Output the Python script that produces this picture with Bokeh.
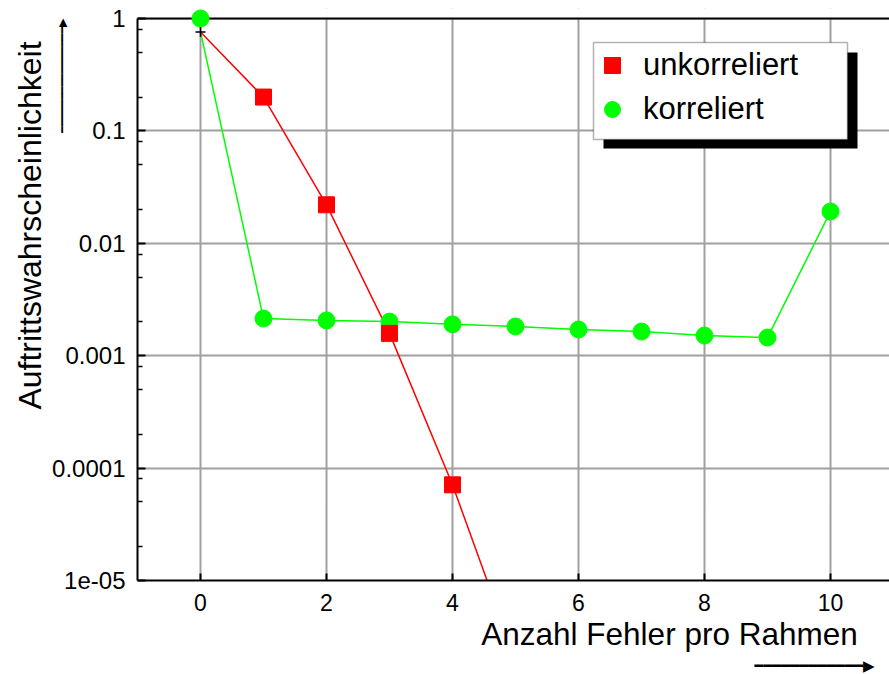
import math
from bokeh.plotting import figure
from bokeh.models import (FixedTicker, Range1d, Label, BoxAnnotation, Span,
                          Legend, LegendItem)
from bokeh.embed import file_html
from bokeh.resources import INLINE

# ---- data ----
fehler = list(range(11))
fehler_unkorreliert = [0, 1, 2, 3, 4, 5]
unkorreliert = [0.76, 0.2, 0.022, 0.00158, 7.1e-5, 2.0e-6]
korreliert = [1.0, 0.00214, 0.00206, 0.00201, 0.0019, 0.00182,
              0.00171, 0.00164, 0.00151, 0.00145, 0.0192]
startwert = 0.76          # common start point (+) of both lines
x_ticks = [0, 2, 4, 6, 8, 10]
y_ticks = [1e-5, 1e-4, 1e-3, 1e-2, 1e-1, 1.0]
y_tick_labels = ["1e-05", "0.0001", "0.001", "0.01", "0.1", "1"]
y_minor = [m * 10.0 ** e for e in range(-5, 0) for m in (2, 5, 8)]

FONT = "Liberation Sans"
ROT = "#ff0000"
GRUEN = "#00ff00"

p = figure(frame_width=752, frame_height=572,
           min_border_left=137, min_border_right=0,
           min_border_top=8, min_border_bottom=94,
           x_range=Range1d(-1, -1 + 752 / 63),
           y_range=Range1d(1e-5, 10 ** (10 / 112.4)),
           y_axis_type="log", output_backend="svg", toolbar_location=None,
           background_fill_color="white", border_fill_color="white")
p.outline_line_color = None

# axes
xt = FixedTicker(ticks=x_ticks, minor_ticks=[])
yt = FixedTicker(ticks=y_ticks, minor_ticks=y_minor)
p.xaxis.ticker = xt
p.yaxis.ticker = yt
p.xgrid.ticker = xt
p.ygrid.ticker = yt
for ax in (p.xaxis[0], p.yaxis[0]):
    ax.axis_line_width = 2
    ax.axis_line_color = "black"
    ax.major_tick_line_width = 2
    ax.major_tick_line_color = "black"
    ax.major_tick_out = 0
    ax.minor_tick_out = 0
    ax.major_label_text_font = FONT
    ax.major_label_text_color = "black"
p.xaxis.major_tick_in = 7
p.xaxis.minor_tick_line_color = None
p.xaxis.major_label_text_font_size = "23px"
p.xaxis.major_label_standoff = 13
p.yaxis.major_tick_in = 8
p.yaxis.minor_tick_in = 5
p.yaxis.minor_tick_line_width = 1.5
p.yaxis.minor_tick_line_color = "black"
p.yaxis.major_label_text_font_size = "24px"
p.yaxis.major_label_standoff = 12
p.yaxis.bounds = (1e-5, 1.0)
p.yaxis.major_label_overrides = {v: s for v, s in zip(y_ticks, y_tick_labels)}

for g in (p.xgrid[0], p.ygrid[0]):
    g.grid_line_color = "#a0a0a0"
    g.grid_line_width = 2

# hide grid above the top border, then draw the top border
p.add_layout(BoxAnnotation(bottom=1.0, fill_color="white", fill_alpha=1,
                           line_color=None, level="underlay"))
p.add_layout(Span(location=1.0, dimension="width", line_color="black",
                  line_width=2, level="underlay"))

# data
p.line(fehler, [startwert] + korreliert[1:], color=GRUEN, line_width=1.5)
p.line(fehler_unkorreliert, unkorreliert, color=ROT, line_width=1.5)
ci = p.scatter(fehler, korreliert, marker="circle", size=17, color=GRUEN)
sq = p.scatter(fehler_unkorreliert[1:], unkorreliert[1:], marker="square",
               size=16, color=ROT)
p.scatter([0], [startwert], marker="cross", size=10, line_color="black",
          line_width=1.5)

# legend with shadow
p.add_layout(BoxAnnotation(left=466, right=720, top=528, bottom=432,
                           left_units="screen", right_units="screen",
                           top_units="screen", bottom_units="screen",
                           fill_color="black", fill_alpha=1, line_color=None))
p.add_layout(BoxAnnotation(left=456, right=710, top=538, bottom=441,
                           left_units="screen", right_units="screen",
                           top_units="screen", bottom_units="screen",
                           fill_color="white", fill_alpha=1,
                           line_color="black", line_width=1.5))
legend = Legend(items=[LegendItem(label="unkorreliert", renderers=[sq]),
                       LegendItem(label="korreliert", renderers=[ci])],
                location=(455, 451), glyph_width=40, glyph_height=40,
                spacing=4, padding=0, margin=0, label_standoff=11,
                label_text_font=FONT, label_text_font_size="31px",
                label_text_color="black",
                border_line_color=None, background_fill_alpha=0)
p.add_layout(legend)

# axis titles (side panels, canvas units)
p.add_layout(Label(x=29, y=225, x_units="canvas", y_units="canvas",
                   text="Auftrittswahrscheinlichkeit", angle=math.pi / 2,
                   text_align="center", text_baseline="alphabetic",
                   text_font=FONT, text_font_size="32px", text_color="black"),
             "left")
p.add_layout(Label(x=669, y=633, x_units="canvas", y_units="canvas",
                   text="Anzahl Fehler pro Rahmen",
                   text_align="center", text_baseline="alphabetic",
                   text_font=FONT, text_font_size="31.5px", text_color="black"),
             "below")

# arrows next to the axis titles (drawn as text so they may lie outside the frame)
p.add_layout(Label(x=62, y=18, x_units="canvas", y_units="canvas",
                   text="\u2501" * 16 + "\u25b6", angle=math.pi / 2,
                   text_align="right", text_baseline="middle",
                   text_font="DejaVu Sans", text_font_size="11px",
                   text_color="black"), "left")
p.add_layout(Label(x=874, y=665, x_units="canvas", y_units="canvas",
                   text="\u2501" * 12 + "\u25b6",
                   text_align="right", text_baseline="middle",
                   text_font="DejaVu Sans", text_font_size="15px",
                   text_color="black"), "below")

open("out.html", "w").write(file_html(p, INLINE))
